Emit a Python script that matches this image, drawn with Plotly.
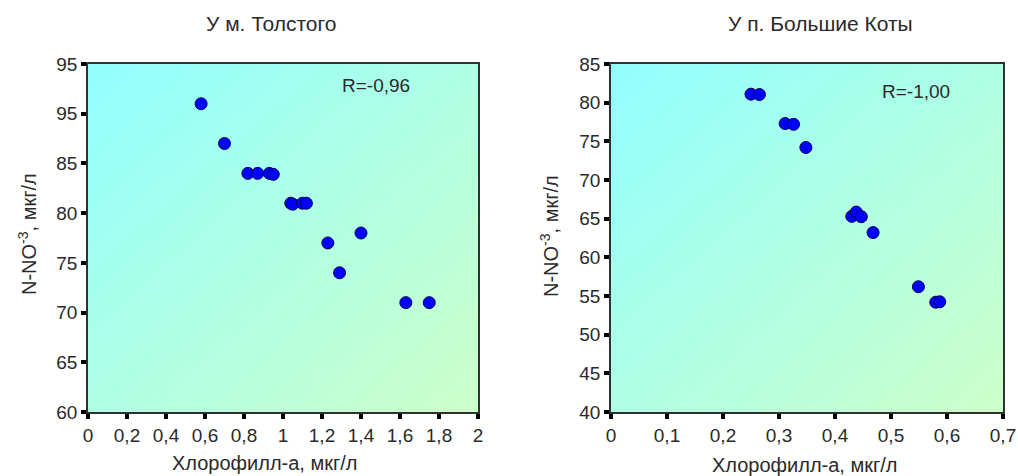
import base64
import plotly.graph_objects as go

# Station 1: У м. Толстого
tol_chl = [0.58, 0.70, 0.82, 0.87, 0.93, 0.95, 1.04, 1.05, 1.10, 1.12, 1.40, 1.23, 1.29, 1.63, 1.75]
tol_no3 = [91, 87, 84, 84, 84, 83.9, 81, 80.9, 81, 81, 78, 77, 74, 71, 71]
tol_yticks = [60, 65, 70, 75, 80, 85, 90, 95]
tol_yticktext = ["60", "65", "70", "75", "80", "85", "95", "95"]
tol_r = "R=-0,96"

# Station 2: У п. Большие Коты
kot_chl = [0.250, 0.265, 0.311, 0.326, 0.348, 0.430, 0.438, 0.447, 0.468, 0.549, 0.580, 0.587]
kot_no3 = [81.1, 81.05, 77.3, 77.2, 74.2, 65.3, 65.85, 65.25, 63.2, 56.2, 54.2, 54.25]
kot_yticks = [40, 45, 50, 55, 60, 65, 70, 75, 80, 85]
kot_r = "R=-1,00"

x_title = "Хлорофилл-а, мкг/л"
y_title = "N-NO<sup>-3</sup>, мкг/л"

FONT = "Liberation Sans, Arial, sans-serif"
TXT = "#2a2a2a"

# diagonal cyan -> pale green fill for the plotting areas
svg = (
    "<svg xmlns='http://www.w3.org/2000/svg' width='100' height='100' preserveAspectRatio='none'>"
    "<defs><linearGradient id='g' x1='0' y1='0' x2='1' y2='1'>"
    "<stop offset='0' stop-color='#92FFFF'/><stop offset='1' stop-color='#CCFFCA'/>"
    "</linearGradient></defs><rect width='100' height='100' fill='url(#g)'/></svg>"
)
grad_src = "data:image/svg+xml;base64," + base64.b64encode(svg.encode()).decode()

W, H = 1018, 476
fig = go.Figure()

marker = dict(size=12, color="#0000FF", line=dict(color="#000050", width=1))
fig.add_trace(go.Scatter(x=tol_chl, y=tol_no3, mode="markers", marker=marker,
                         xaxis="x", yaxis="y", showlegend=False))
fig.add_trace(go.Scatter(x=kot_chl, y=kot_no3, mode="markers", marker=marker,
                         xaxis="x2", yaxis="y2", showlegend=False))

ydom = [1 - 412 / H, 1 - 64 / H]
axis_common = dict(
    showgrid=False, zeroline=False, showline=True, linecolor="#303030", linewidth=1.5,
    mirror=True, ticks="outside", ticklen=5, tickwidth=4, tickcolor="#000000",
    tickfont=dict(family=FONT, size=19, color=TXT), automargin=False,
)

fig.update_layout(
    width=W, height=H,
    margin=dict(l=0, r=0, t=0, b=0, pad=0, autoexpand=False),
    paper_bgcolor="#FFFFFF", plot_bgcolor="rgba(0,0,0,0)",
    separators=", ",
    xaxis=dict(domain=[88 / W, 478 / W], range=[0, 2], tickvals=[i * 0.2 for i in range(11)],
               anchor="y", **axis_common),
    yaxis=dict(domain=ydom, range=[60, 95], tickvals=tol_yticks, ticktext=tol_yticktext,
               anchor="x", **axis_common),
    xaxis2=dict(domain=[611 / W, 1003 / W], range=[0, 0.7], tickvals=[i * 0.1 for i in range(8)],
                anchor="y2", **axis_common),
    yaxis2=dict(domain=ydom, range=[40, 85], tickvals=kot_yticks, anchor="x2", **axis_common),
    images=[
        dict(source=grad_src, xref="x domain", yref="y domain", x=0, y=1, sizex=1, sizey=1,
             xanchor="left", yanchor="top", sizing="stretch", layer="below"),
        dict(source=grad_src, xref="x2 domain", yref="y2 domain", x=0, y=1, sizex=1, sizey=1,
             xanchor="left", yanchor="top", sizing="stretch", layer="below"),
    ],
)

def ann(text, x, y, size, angle=0, color=TXT):
    fig.add_annotation(text=text, x=x / W, y=1 - y / H, xref="paper", yref="paper",
                       showarrow=False, textangle=angle, xanchor="center", yanchor="middle",
                       font=dict(family=FONT, size=size, color=color))

ann("У м. Толстого", 271, 23, 21)
ann("У п. Большие Коты", 820, 23, 21)
ann(x_title, 265, 463, 20)
ann(x_title, 805, 465, 20)
ann(y_title, 27, 234, 20, angle=-90)
ann(y_title, 549, 236, 20, angle=-90)
ann(tol_r, 376, 85, 19)
ann(kot_r, 916, 91, 19)

fig.write_html("out.html")
